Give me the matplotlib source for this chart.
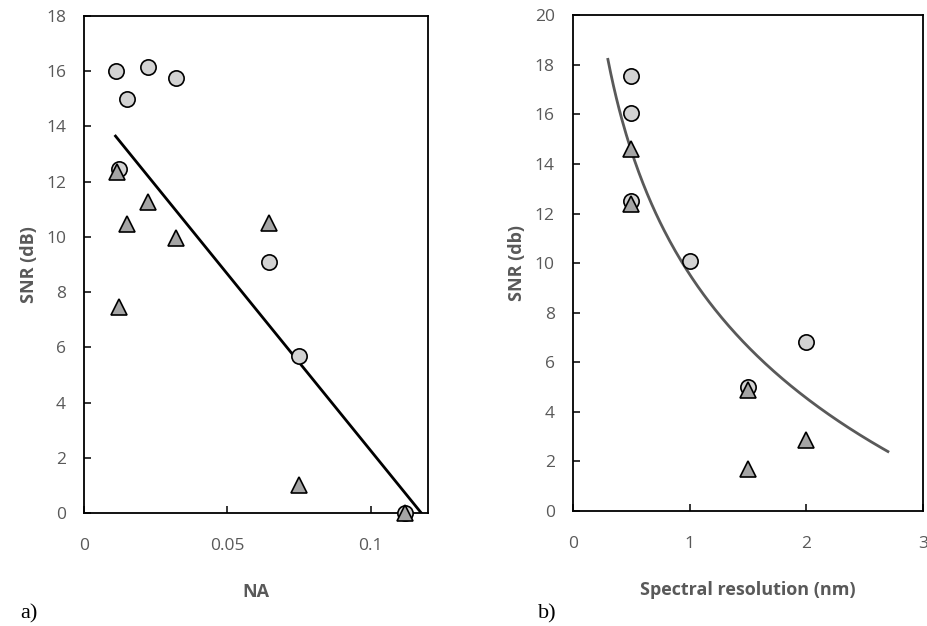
"""plot.py

SNR versus NA (a) and versus spectral resolution (b).
"""
import numpy as np
import matplotlib
matplotlib.use('Agg')
from matplotlib import pyplot as plt

#
# Parameters
#
grey_text = '#595959'
circle_fc = '#d3d3d3'
triangle_fc = '#a5a5a5'
plt.rcParams['font.family'] = ['Open Sans', 'DejaVu Sans']

#
# Data
#

## a) SNR vs NA
na_circ = [0.011, 0.0225, 0.015, 0.032, 0.0123, 0.0645, 0.075, 0.112]
snr_circ = [16.0, 16.15, 15.0, 15.75, 12.45, 9.1, 5.7, 0.0]
na_tri = [0.0114, 0.0224, 0.0149, 0.0321, 0.0644, 0.0122, 0.075, 0.112]
snr_tri = [12.35, 11.25, 10.45, 9.95, 10.5, 7.45, 1.0, 0.0]
na_fit = [0.011, 0.1177]
snr_fit = [13.65, 0.0]

## b) SNR vs spectral resolution
res_circ = [0.5, 0.5, 0.5, 1.0, 1.5, 2.0]
snr2_circ = [17.55, 16.05, 12.5, 10.1, 5.0, 6.8]
res_tri = [0.5, 0.5, 1.5, 1.5, 2.0]
snr2_tri = [14.6, 12.4, 4.9, 1.7, 2.85]
# logarithmic trend line  y = a + b ln(x)
log_a, log_b = 9.55, -7.2
res_range = [0.3, 2.7]


def style(ax):
    for s in ax.spines.values():
        s.set_color('black')
        s.set_linewidth(1.3)
    ax.tick_params(direction='in', length=5, width=1.1, colors='black',
                   labelcolor=grey_text, labelsize=12.5)
    ax.tick_params(axis='x', pad=18)
    ax.tick_params(axis='y', pad=13)


#
# Plot
#
fig = plt.figure(figsize=(9.27, 6.26), dpi=100)

ax = fig.add_axes([0.0906, 0.1805, 0.371, 0.794])
ax.plot(na_fit, snr_fit, '-', color='black', lw=2)
ax.plot(na_circ, snr_circ, 'o', ms=11, mfc=circle_fc, mec='black', mew=1.2,
        clip_on=False, zorder=3)
ax.plot(na_tri, snr_tri, '^', ms=11, mfc=triangle_fc, mec='black', mew=1.2,
        clip_on=False, zorder=4)
ax.set_xlim(0, 0.12)
ax.set_ylim(0, 18)
ax.set_xticks([0, 0.05, 0.1])
ax.set_xticklabels(['0', '0.05', '0.1'])
ax.set_yticks(range(0, 19, 2))
style(ax)
ax.set_xlabel('NA', color=grey_text, fontsize=13, fontweight='bold', labelpad=21)
ax.set_ylabel('SNR (dB)', color=grey_text, fontsize=13, fontweight='bold',
              labelpad=6)

bx = fig.add_axes([0.618, 0.1837, 0.3776, 0.792])
xs = np.linspace(res_range[0], res_range[1], 200)
bx.plot(xs, log_a + log_b*np.log(xs), '-', color='#595959', lw=2)
bx.plot(res_circ, snr2_circ, 'o', ms=11, mfc=circle_fc, mec='black', mew=1.2,
        clip_on=False, zorder=3)
bx.plot(res_tri, snr2_tri, '^', ms=11, mfc=triangle_fc, mec='black', mew=1.2,
        clip_on=False, zorder=4)
bx.set_xlim(0, 3)
bx.set_ylim(0, 20)
bx.set_xticks([0, 1, 2, 3])
bx.set_yticks(range(0, 21, 2))
style(bx)
bx.set_xlabel('Spectral resolution (nm)', color=grey_text, fontsize=13,
              fontweight='bold', labelpad=21)
bx.set_ylabel('SNR (db)', color=grey_text, fontsize=13, fontweight='bold',
              labelpad=6)

fig.text(0.022, 0.012, 'a)', family='Liberation Serif', fontsize=16)
fig.text(0.580, 0.012, 'b)', family='Liberation Serif', fontsize=16)

plt.savefig('out.png', dpi=100)
